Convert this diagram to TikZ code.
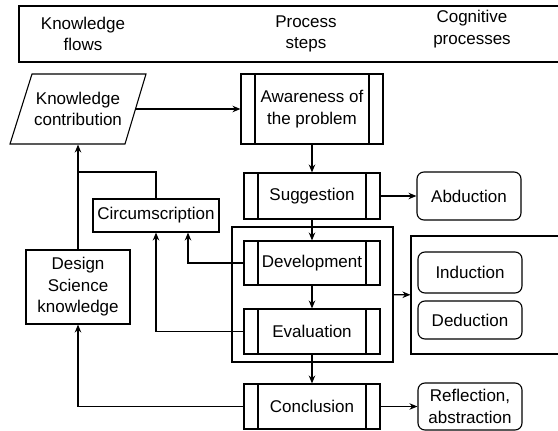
\documentclass[tikz,border=0pt]{standalone}
\usepackage{fontspec}
\setmainfont{Liberation Sans}
\usetikzlibrary{arrows.meta}

\begin{document}
\begin{tikzpicture}[x=1pt, y=-1pt,
    font=\fontsize{17}{21.5}\selectfont,
    line width=1.1pt,
    flow/.style={-{Stealth[length=8pt,width=6.5pt]}},
    stepbox/.style={draw, align=center, inner sep=2pt,
        minimum width=136pt, minimum height=45pt,
        path picture={
            \draw ([xshift=14pt]path picture bounding box.north west)
                -- ([xshift=14pt]path picture bounding box.south west);
            \draw ([xshift=-14pt]path picture bounding box.north east)
                -- ([xshift=-14pt]path picture bounding box.south east);
        }},
    cogbox/.style={draw, rounded corners=7pt, align=center, inner sep=2pt,
        minimum width=104pt},
    plainbox/.style={draw, align=center, inner sep=2pt}]

    % Define the picture area
    \useasboundingbox (0,0) rectangle (558,431);
    \clip (0,0) rectangle (558,431);

    % Header row
    \draw (19,6) rectangle (565,62);
    \node[align=center] (hflows) at (83,34) {Knowledge\\flows};
    \node[align=center] (hsteps) at (306,34) {Process\\steps};
    \node[align=center] (hcog) at (472,29) {Cognitive\\processes};

    % Process steps
    \node[stepbox, minimum width=142pt, minimum height=70pt] (aware) at (312,109) {Awareness of\\the problem};
    \node[stepbox, minimum height=46pt] (sugg) at (312,196) {Suggestion};
    \node[draw, minimum width=161pt, minimum height=135pt] (devgroup) at (312.5,294.5) {};
    \node[stepbox, minimum height=44pt] (devel) at (312,263) {Development};
    \node[stepbox] (evalu) at (312,331.5) {Evaluation};
    \node[stepbox] (concl) at (312,406.5) {Conclusion};

    % Knowledge flows (parallelogram drawn round the text node)
    \node[align=center, minimum width=115pt, minimum height=70pt] (contrib) at (78,109) {Knowledge\\contribution};
    \draw (contrib.center) ++(-46,-35) -- ++(114,0) -- ++(-21,70) -- ++(-115,0) -- cycle;
    \node[plainbox, minimum width=126pt, minimum height=33pt] (circ) at (156,215.5) {Circumscription};
    \node[plainbox, minimum width=104pt, minimum height=74pt] (dsk) at (78,287) {Design\\Science\\knowledge};
    \coordinate (merge) at (78,172);

    % Cognitive processes
    \node[cogbox, minimum height=48pt] (abduct) at (469,196) {Abduction};
    \node[draw, minimum width=154pt, minimum height=118pt] (coggroup) at (488,295) {};
    \node[cogbox, minimum height=41pt] (induct) at (470,272.5) {Induction};
    \node[cogbox, minimum height=38pt] (deduct) at (470,320) {Deduction};
    \node[cogbox, minimum height=47pt] (reflect) at (470,406.5) {Reflection,\\abstraction};

    % Main flow
    \draw[flow] (contrib) -- (aware);
    \draw[flow] (aware) -- (sugg);
    \draw[flow] (sugg) -- (devel);
    \draw[flow] (devel) -- (evalu);
    \draw[flow] (evalu) -- (concl);

    % Links to the cognitive processes
    \draw[flow] (sugg) -- (abduct);
    \draw[flow] (devgroup) -- (coggroup);
    \draw[flow] (concl) -- (reflect);

    % Feedback links
    \draw[flow] (devel.west) -| ([xshift=32pt]circ.south);
    \draw[flow] (evalu.west) -| (circ.south);
    \draw[flow] (concl.west) -| (dsk.south);
    \draw (circ.north) |- (merge);
    \draw[flow] (dsk.north) -- (contrib.south);
\end{tikzpicture}
\end{document}
